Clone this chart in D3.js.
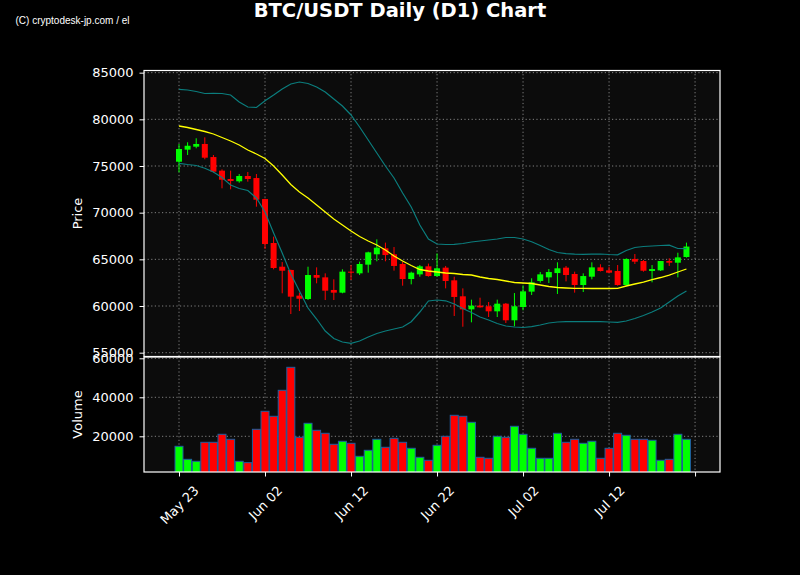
<!DOCTYPE html>
<html>
<head>
<meta charset="utf-8">
<script src="https://cdn.jsdelivr.net/npm/d3@7"></script>
<style>
  body { margin: 0; background: #000; }
  svg { display: block; font-family: "DejaVu Sans", sans-serif; }
</style>
</head>
<body>
<svg id="chart" width="800" height="575"></svg>
<script>
// daily candles, first day = May 23
var startDate = new Date(2024, 4, 23);

var opens  = [75460,76750,77070,77360,75960,74500,73610,73360,73930,73710,
              71460,66750,64210,63860,61110,60750,63320,63070,61720,61430,
              63680,63500,64430,65540,66180,65540,64500,62890,63390,64250,
              63210,64110,62750,61040,59640,60040,59970,59430,60250,58470,
              59890,61540,62680,63070,63530,64110,63430,62250,63140,64140,
              63820,63750,62250,65040,64820,63750,63820,64820,64640,65250];
var highs  = [77360,77540,77970,78070,76180,74640,74500,74140,74360,74140,
              71500,67430,64710,63900,61430,64210,64140,63500,62860,63930,
              64390,64750,65820,67140,66790,66320,64750,63680,64390,64540,
              65640,64290,63140,61890,60680,60890,60430,60680,60320,61390,
              62210,62970,63640,63960,64680,64290,63680,63500,64680,64470,
              64210,64390,65110,65570,64930,64390,64820,65110,65710,66790];
var lows   = [74320,76180,76900,75720,74290,72610,72500,73210,73320,70640,
              66110,63930,61360,59140,59460,60640,62430,60640,60640,61360,
              62790,63320,63570,64790,64790,63790,62180,62320,63140,63140,
              63140,61890,58930,57780,58250,59820,58820,58820,58180,57820,
              59540,61180,62500,62460,61290,62640,61430,61500,62860,63700,
              63530,62180,62180,64500,63680,62540,63750,64290,63070,65180];
var closes = [76820,77170,77360,75890,74390,73530,73390,73930,73610,71390,
              66640,64070,63780,61000,60780,63320,63030,61640,61430,63680,
              63570,64500,65750,66250,65460,64290,62890,63570,64250,63210,
              64040,62680,60970,59640,60040,59860,59430,60250,58470,59970,
              61570,62540,63390,63640,64040,63320,62250,63210,64140,63750,
              63570,62250,65040,64750,63780,63960,64820,64640,65210,66370];
var volumes = [14870,8200,7180,16920,16920,21030,18460,7180,6480,23590,
               32820,30260,43590,55380,19490,26670,23080,21540,15900,17440,
               16410,9740,12820,18460,14360,18970,16920,13850,9230,7690,
               15380,20000,30770,30260,27180,9230,8720,20000,19490,25130,
               21030,13850,8720,8720,21540,16920,18460,16410,17440,8720,
               13850,21540,20510,18460,18460,17950,7690,8200,21030,18460];
// 20-day SMA and bollinger bands
var sma   = [79286,79125,78911,78696,78429,78054,77679,77250,76714,76286,
             75804,75000,74036,73018,72214,71571,70821,70071,69321,68679,
             68036,67446,66964,66536,66000,65357,64821,64339,63911,63750,
             63643,63536,63482,63375,63321,63107,62946,62839,62679,62518,
             62464,62411,62250,62089,61982,61929,61896,61896,61875,61875,
             61875,61896,62143,62357,62571,62839,63054,63321,63643,63964];
var upper = [83218,83143,82982,82768,82789,82768,82607,81857,81321,81268,
             81996,82607,83250,83786,84000,83839,83464,82929,82179,81429,
             80464,79179,77786,76393,75000,73714,72107,70607,68679,67179,
             66643,66589,66611,66696,66857,66964,67071,67179,67339,67339,
             67179,66889,66482,66054,65732,65604,65550,65539,65550,65571,
             65518,65486,65946,66268,66375,66429,66482,66514,66161,66139];
var lower = [75289,75161,75054,74754,74357,73768,72964,72589,72375,71571,
             70071,67821,65679,63429,61607,59786,58607,57321,56518,56143,
             56004,56250,56679,57054,57321,57536,57750,58318,59357,60536,
             60643,60557,60214,59732,59304,58821,58500,58125,57857,57750,
             57696,57782,57964,58179,58286,58318,58318,58318,58318,58318,
             58286,58254,58393,58661,58982,59357,59786,60429,61071,61607];

var priceTicks = [55000,60000,65000,70000,75000,80000,85000];
var volTicks = [20000,40000,60000];
var dayTicks = [0,10,20,30,40,50,60];

var svg = d3.select("#chart");
var left = 144, right = 720;
var pTop = 70.5, pBot = 356.5, vTop = 357, vBot = 472;

var candles = opens.map(function(o,i){
  return {i:i, o:o, h:highs[i], l:lows[i], c:closes[i], v:volumes[i]};
});

var x = d3.scaleLinear().domain([-4.07, 62.9]).range([left, right]);
var y = d3.scaleLinear().domain([54590, 85232]).range([pBot, pTop]);
var yv = d3.scaleLinear().domain([1690, 60670]).range([vBot, vTop]);
var fmt = d3.timeFormat("%b %d");
var up = "#00ff00", down = "#ff0000";

svg.append("rect").attr("width",800).attr("height",575).attr("fill","#000");

svg.append("text").attr("x",400).attr("y",17).attr("text-anchor","middle")
  .attr("fill","#fff").attr("font-weight","bold").attr("font-size","19.5px")
  .text("BTC/USDT Daily (D1) Chart");
svg.append("text").attr("x",15.5).attr("y",24).attr("fill","#fff")
  .attr("font-family","'Liberation Sans', sans-serif").attr("font-size","10.5px")
  .attr("textLength",114).attr("lengthAdjust","spacingAndGlyphs")
  .text("(C) cryptodesk-jp.com / el");

svg.append("clipPath").attr("id","clipP").append("rect")
  .attr("x",left).attr("y",pTop).attr("width",right-left).attr("height",pBot-pTop);
svg.append("clipPath").attr("id","clipV").append("rect")
  .attr("x",left).attr("y",vTop).attr("width",right-left).attr("height",vBot-vTop);

function panel(top, bot, ys, ticks, clipId){
  var g = svg.append("g");
  g.append("rect").attr("x",left).attr("y",top).attr("width",right-left)
    .attr("height",bot-top).attr("fill","#0c0c0c");
  var grid = g.append("g").attr("clip-path","url(#"+clipId+")")
    .attr("stroke","#aaa").attr("stroke-opacity",0.75)
    .attr("stroke-dasharray","1.2,2.4").attr("stroke-width",1);
  grid.selectAll(".gx").data(dayTicks).enter().append("line")
    .attr("x1",function(d){return x(d);}).attr("x2",function(d){return x(d);})
    .attr("y1",top).attr("y2",bot);
  grid.selectAll(".gy").data(ticks).enter().append("line")
    .attr("x1",left).attr("x2",right)
    .attr("y1",function(d){return ys(d);}).attr("y2",function(d){return ys(d);});
  return g;
}

var gp = panel(pTop, pBot, y, priceTicks, "clipP");
var gv = panel(vTop, vBot, yv, volTicks, "clipV");

// candles
var cg = gp.append("g").attr("clip-path","url(#clipP)");
cg.selectAll(".wick").data(candles).enter().append("line")
  .attr("x1",function(d){return x(d.i);}).attr("x2",function(d){return x(d.i);})
  .attr("y1",function(d){return y(d.h);}).attr("y2",function(d){return y(d.l);})
  .attr("stroke",function(d){return d.c>=d.o?up:down;}).attr("stroke-width",1);
cg.selectAll(".body").data(candles).enter().append("rect")
  .attr("x",function(d){return x(d.i)-3;}).attr("width",6)
  .attr("y",function(d){return y(Math.max(d.o,d.c));})
  .attr("height",function(d){return Math.max(1, Math.abs(y(d.o)-y(d.c)));})
  .attr("fill",function(d){return d.c>=d.o?up:down;});

var line = d3.line().x(function(d,i){return x(i);}).y(function(d){return y(d);});
cg.append("path").datum(upper).attr("d",line).attr("fill","none")
  .attr("stroke","#0b7d7d").attr("stroke-width",1.2);
cg.append("path").datum(lower).attr("d",line).attr("fill","none")
  .attr("stroke","#0b7d7d").attr("stroke-width",1.2);
cg.append("path").datum(sma).attr("d",line).attr("fill","none")
  .attr("stroke","#ffff00").attr("stroke-width",1.3);

// volume
var vg = gv.append("g").attr("clip-path","url(#clipV)");
var bw = (x(1)-x(0))*0.93;
vg.selectAll(".vol").data(candles).enter().append("rect")
  .attr("x",function(d){return x(d.i)-bw/2;}).attr("width",bw)
  .attr("y",function(d){return yv(d.v);})
  .attr("height",function(d){return yv(0)-yv(d.v);})
  .attr("fill",function(d){return d.c>=d.o?up:down;})
  .attr("stroke","#1f5fa0").attr("stroke-width",1);

// frames
[[pTop,pBot],[vTop,vBot]].forEach(function(p){
  svg.append("rect").attr("x",left).attr("y",p[0]).attr("width",right-left)
    .attr("height",p[1]-p[0]).attr("fill","none").attr("stroke","#fff").attr("stroke-width",1.2);
});

// axes
function yAxis(scale, ticks){
  var a = svg.append("g").attr("transform","translate("+left+",0)")
    .call(d3.axisLeft(scale).tickValues(ticks).tickSize(4.5).tickPadding(6).tickFormat(d3.format("d")));
  a.select(".domain").remove();
  a.selectAll("line").attr("stroke","#fff");
  a.selectAll("text").attr("fill","#fff").attr("font-size","13px")
    .attr("font-family","'DejaVu Sans', sans-serif");
}
yAxis(y, priceTicks);
yAxis(yv, volTicks);

var xa = svg.append("g").attr("transform","translate(0,"+vBot+")")
  .call(d3.axisBottom(x).tickValues(dayTicks).tickSize(4.5)
    .tickFormat(function(d){ return d < 60 ? fmt(d3.timeDay.offset(startDate, d)) : ""; }));
xa.select(".domain").remove();
xa.selectAll("line").attr("stroke","#fff");
xa.selectAll("text").attr("fill","#fff").attr("font-size","13px")
  .attr("font-family","'DejaVu Sans', sans-serif")
  .attr("dy",null).attr("text-anchor","middle").attr("dominant-baseline","central")
  .each(function(){
    var t = d3.select(this);
    var len = this.getComputedTextLength();
    var half = (len + 12) * 0.7071 / 2;
    t.attr("y", 0).attr("transform","translate(0,"+(12 + half)+") rotate(-45)");
  });

svg.append("text").attr("transform","translate(82,"+((pTop+pBot)/2)+") rotate(-90)")
  .attr("text-anchor","middle").attr("fill","#fff").attr("font-size","13px").text("Price");
svg.append("text").attr("transform","translate(82,"+((vTop+vBot)/2)+") rotate(-90)")
  .attr("text-anchor","middle").attr("fill","#fff").attr("font-size","13px").text("Volume");
</script>
</body>
</html>
